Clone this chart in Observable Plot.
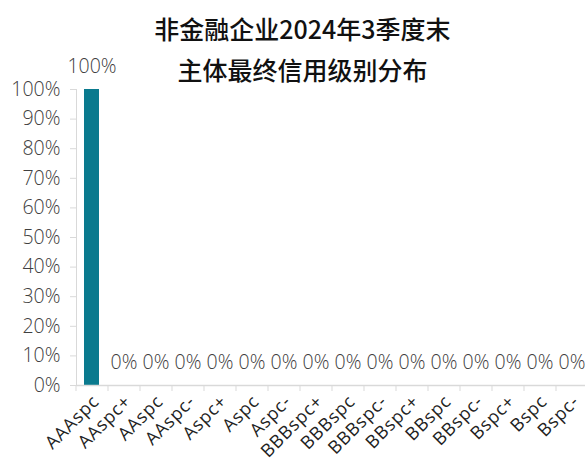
<!DOCTYPE html>
<html><head><meta charset="utf-8">
<script src="https://cdn.jsdelivr.net/npm/d3@7"></script>
<script src="https://cdn.jsdelivr.net/npm/@observablehq/plot@0.6"></script>
<style>
body{margin:0;background:#fff;}
#wrap{position:relative;width:585px;height:460px;overflow:hidden;}
#title{position:absolute;left:0;top:8px;width:605px;text-align:center;font-family:"Noto Sans CJK SC",sans-serif;font-size:25px;font-weight:500;line-height:41px;color:#111;}
g[aria-label="x-axis tick label"] text{letter-spacing:0.8px;}
</style></head>
<body><div id="wrap"><div id="title">非金融企业2024年3季度末<br>主体最终信用级别分布</div></div>
<script>
const categories = ["AAAspc","AAspc+","AAspc","AAspc-","Aspc+","Aspc","Aspc-","BBBspc+","BBBspc","BBBspc-","BBspc+","BBspc","BBspc-","Bspc+","Bspc","Bspc-"];
const shares = [1,0,0,0,0,0,0,0,0,0,0,0,0,0,0,0];
const yTicks = [0,0.1,0.2,0.3,0.4,0.5,0.6,0.7,0.8,0.9,1];
const data = categories.map((c,i)=>({cat:c, v:shares[i]}));
const fmt = d3.format(".0%");
const font = "'Open Sans', sans-serif";
const chart = Plot.plot({
  width: 585, height: 460,
  marginLeft: 76, marginRight: 0, marginTop: 89, marginBottom: 75,
  style: {fontFamily: font, background: "transparent"},
  x: {domain: categories, range: [76, 588], paddingInner: 0.53, paddingOuter: 0.265, align: 0.5, label: null},
  y: {domain: [0, 1], label: null},
  marks: [
    Plot.frame({anchor: "left", stroke: "#d9d9d9"}),
    Plot.axisY({ticks: yTicks, tickFormat: fmt, tickSize: 6, stroke: "#d9d9d9", fill: "#404040", fontSize: 19.5, tickPadding: 10, fontWeight: 300, label: null}),
    Plot.barY(data, {x: "cat", y: "v", fill: "#0a7a8e"}),
    Plot.ruleY([0], {stroke: "#d9d9d9", strokeWidth: 1.5}),
    Plot.axisX({ticks: categories, tickSize: 6, tickFormat: () => "", dx: -16, stroke: "#d9d9d9", label: null}),
    Plot.axisX({ticks: categories, tickSize: 0, tickPadding: 13, tickRotate: -45, fill: "#222", fontSize: 18, dx: 4, label: null}),
    Plot.text(data, {x: "cat", y: "v", text: d => fmt(d.v), dy: -23, fill: "#404040", fontSize: 19.5, fontWeight: 300})
  ]
});
document.getElementById("wrap").prepend(chart);
</script></body></html>
